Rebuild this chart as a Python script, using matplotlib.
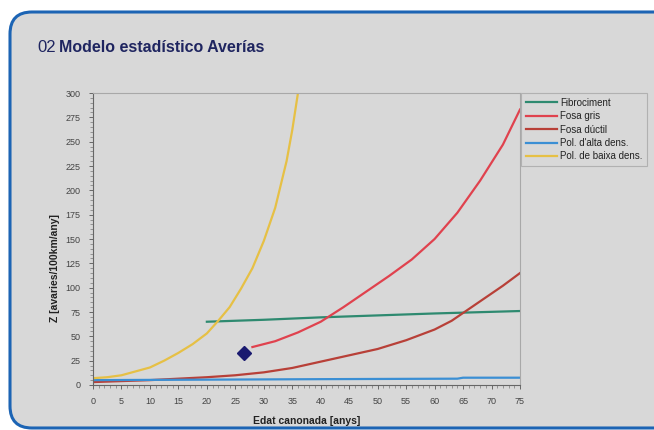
import matplotlib
matplotlib.use("Agg")
import matplotlib.pyplot as plt
import matplotlib.patches as mpatches
from matplotlib.transforms import IdentityTransform
from matplotlib.ticker import MultipleLocator

plt.rcParams["font.family"] = ["Liberation Sans", "DejaVu Sans"]

# --- data ---
age_fibro = [20, 30, 40, 50, 60, 75]
z_fibro = [65, 67, 69.5, 71.5, 73.5, 76]

age_gris = [28, 32, 36, 40, 44, 48, 52, 56, 60, 64, 68, 72, 75]
z_gris = [39, 45, 54, 65, 80, 96, 112, 129, 150, 177, 210, 247, 283]

age_ductil = [0, 10, 20, 25, 30, 35, 40, 45, 50, 55, 60, 63, 66, 69, 72, 75]
z_ductil = [3, 5, 8, 10, 13, 17.5, 24, 30.5, 37, 46, 57, 66, 78, 90, 102, 115]

age_alta = [0, 20, 40, 64, 65, 75]
z_alta = [5, 5.5, 6, 6.5, 7.5, 7.5]

age_baixa = [0, 2.5, 5, 7.5, 10, 12.5, 15, 17.5, 20, 22, 24, 26, 28, 30,
             32, 34, 35, 36]
z_baixa = [7, 8, 10, 14, 18, 25, 33, 42, 53, 66, 80, 99, 120, 148,
           182, 230, 262, 300]

point_age = [26.6]
point_z = [33]

labels = ["Fibrociment", "Fosa gris", "Fosa dúctil",
          "Pol. d'alta dens.", "Pol. de baixa dens."]
colors = ["#2e8a70", "#e0424e", "#b84038", "#3b8fd4", "#e6c045"]

W, H = 654, 430
fig = plt.figure(figsize=(W / 100, H / 100), dpi=100)
fig.patch.set_facecolor("white")

# slide frame with rounded blue border (behind the axes)
frame = mpatches.FancyBboxPatch(
    (10, 2), 670, 416, boxstyle="round,pad=0,rounding_size=22",
    transform=IdentityTransform(), facecolor="#d8d8d8",
    edgecolor="#1c64b4", linewidth=2.2, zorder=-5)
fig.patches.append(frame)

fig.text(37 / W, 1 - 47 / H, "02", fontsize=12, color="#1f2560",
         va="center", ha="left")
fig.text(59 / W, 1 - 47 / H, "Modelo estadístico Averías", fontsize=11.5,
         color="#1f2560", fontweight="bold", va="center", ha="left")

ax = fig.add_axes([93 / W, 1 - 385 / H, 427 / W, 292 / H])
ax.set_facecolor("#d8d8d8")

series = [(age_fibro, z_fibro), (age_gris, z_gris), (age_ductil, z_ductil),
          (age_alta, z_alta), (age_baixa, z_baixa)]
for (xs, ys), lab, col in zip(series, labels, colors):
    ax.plot(xs, ys, color=col, linewidth=1.6, label=lab,
            solid_joinstyle="round")

ax.plot(point_age, point_z, marker="D", color="#1a1a70", markersize=7,
        linestyle="none")

ax.set_xlim(0, 75)
ax.set_ylim(0, 300)
ax.xaxis.set_major_locator(MultipleLocator(5))
ax.yaxis.set_major_locator(MultipleLocator(25))
ax.xaxis.set_minor_locator(MultipleLocator(1))
ax.yaxis.set_minor_locator(MultipleLocator(5))
ax.tick_params(axis="both", which="major", labelsize=6.5, colors="#555555",
               length=3, width=0.6, labelcolor="#444444", pad=6)
ax.tick_params(axis="both", which="minor", length=2, width=0.5,
               colors="#777777")

for side in ["top", "right"]:
    ax.spines[side].set_color("#a8a8a8")
    ax.spines[side].set_linewidth(0.8)
for side in ["left", "bottom"]:
    ax.spines[side].set_color("#666666")
    ax.spines[side].set_linewidth(0.8)

ax.set_xlabel("Edat canonada [anys]", fontsize=7.5, fontweight="bold",
              color="#222222", labelpad=7)
ax.set_ylabel("Z [avaries/100km/any]", fontsize=7.5, fontweight="bold",
              color="#222222")
ax.yaxis.set_label_coords(-0.077, 0.40)

leg = ax.legend(loc="upper left", bbox_to_anchor=(1.003, 1.0),
                fontsize=7, frameon=True, fancybox=False,
                handlelength=3.2, handletextpad=0.3, labelspacing=0.35,
                borderpad=0.5, borderaxespad=0)
leg.get_frame().set_facecolor("#d8d8d8")
leg.get_frame().set_edgecolor("#a8a8a8")
leg.get_frame().set_linewidth(0.8)
for t in leg.get_texts():
    t.set_color("#222222")

fig.savefig("out.png", dpi=100)
